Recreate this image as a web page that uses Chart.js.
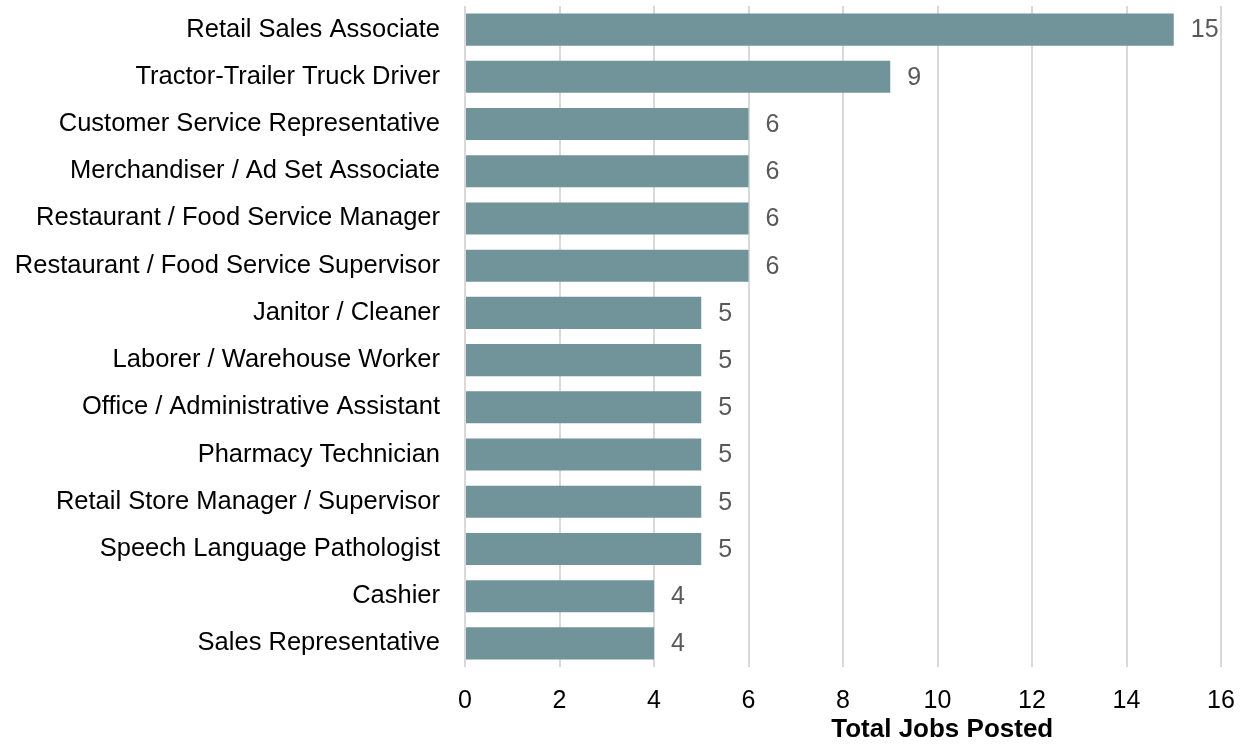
<!DOCTYPE html>
<html>
<head>
<meta charset="utf-8">
<script src="https://cdn.jsdelivr.net/npm/chart.js@4"></script>
<style>
  html, body { margin: 0; padding: 0; background: #fff; }
  #wrap { width: 1249px; height: 753px; position: relative; }
</style>
</head>
<body>
<div id="wrap"><canvas id="jobsChart"></canvas></div>
<script>
const jobTitles = [
    "Retail Sales Associate",
    "Tractor-Trailer Truck Driver",
    "Customer Service Representative",
    "Merchandiser / Ad Set Associate",
    "Restaurant / Food Service Manager",
    "Restaurant / Food Service Supervisor",
    "Janitor / Cleaner",
    "Laborer / Warehouse Worker",
    "Office / Administrative Assistant",
    "Pharmacy Technician",
    "Retail Store Manager / Supervisor",
    "Speech Language Pathologist",
    "Cashier",
    "Sales Representative"
];
const jobsPosted = [15, 9, 6, 6, 6, 6, 5, 5, 5, 5, 5, 5, 4, 4];
const xTicks = [0, 2, 4, 6, 8, 10, 12, 14, 16];
const axisTitle = "Total Jobs Posted";

const FONT = "'Liberation Sans', Arial, sans-serif";

// value labels at the end of each bar
const valueLabels = {
    id: "valueLabels",
    afterDatasetsDraw(chart) {
        const ctx = chart.ctx;
        const meta = chart.getDatasetMeta(0);
        ctx.save();
        ctx.font = "25px " + FONT;
        ctx.fillStyle = "#595959";
        ctx.textAlign = "left";
        ctx.textBaseline = "middle";
        meta.data.forEach((bar, i) => {
            ctx.fillText(jobsPosted[i], bar.x + 17, bar.y + 1);
        });
        ctx.restore();
    }
};

// axis title, sits a bit right of the plot centre like the original
const xTitle = {
    id: "xTitle",
    afterDraw(chart) {
        const ctx = chart.ctx;
        const x = chart.scales.x;
        ctx.save();
        ctx.font = "bold 26px " + FONT;
        ctx.fillStyle = "#000";
        ctx.textAlign = "center";
        ctx.textBaseline = "alphabetic";
        ctx.fillText(axisTitle, x.getPixelForValue(10.1), x.bottom + 2);
        ctx.restore();
    }
};

new Chart(document.getElementById("jobsChart"), {
    type: "bar",
    data: {
        labels: jobTitles,
        datasets: [{
            data: jobsPosted,
            backgroundColor: "#71939a",
            barPercentage: 0.68,
            categoryPercentage: 1
        }]
    },
    options: {
        indexAxis: "y",
        responsive: true,
        maintainAspectRatio: false,
        animation: false,
        layout: { padding: { top: 6, right: 28, bottom: 18, left: 0 } },
        plugins: {
            legend: { display: false },
            tooltip: { enabled: false }
        },
        scales: {
            x: {
                min: 0,
                max: 16,
                afterBuildTicks: (s) => { s.ticks = xTicks.map(v => ({ value: v })); },
                afterFit: (s) => { s.paddingLeft = 0; s.paddingRight = 0; },
                grid: { color: "#d9d9d9", lineWidth: 2, drawTicks: false },
                border: { display: false },
                ticks: {
                    color: "#000",
                    padding: 19,
                    maxRotation: 0,
                    font: { family: FONT, size: 25 }
                }
            },
            y: {
                grid: { display: false, drawTicks: false },
                border: { display: false },
                afterFit: (s) => { s.width = 465; s.paddingTop = 0; s.paddingBottom = 0; },
                ticks: {
                    color: "#000",
                    padding: 25,
                    autoSkip: false,
                    font: { family: FONT, size: 25.5 }
                }
            }
        }
    },
    plugins: [valueLabels, xTitle]
});
</script>
</body>
</html>
